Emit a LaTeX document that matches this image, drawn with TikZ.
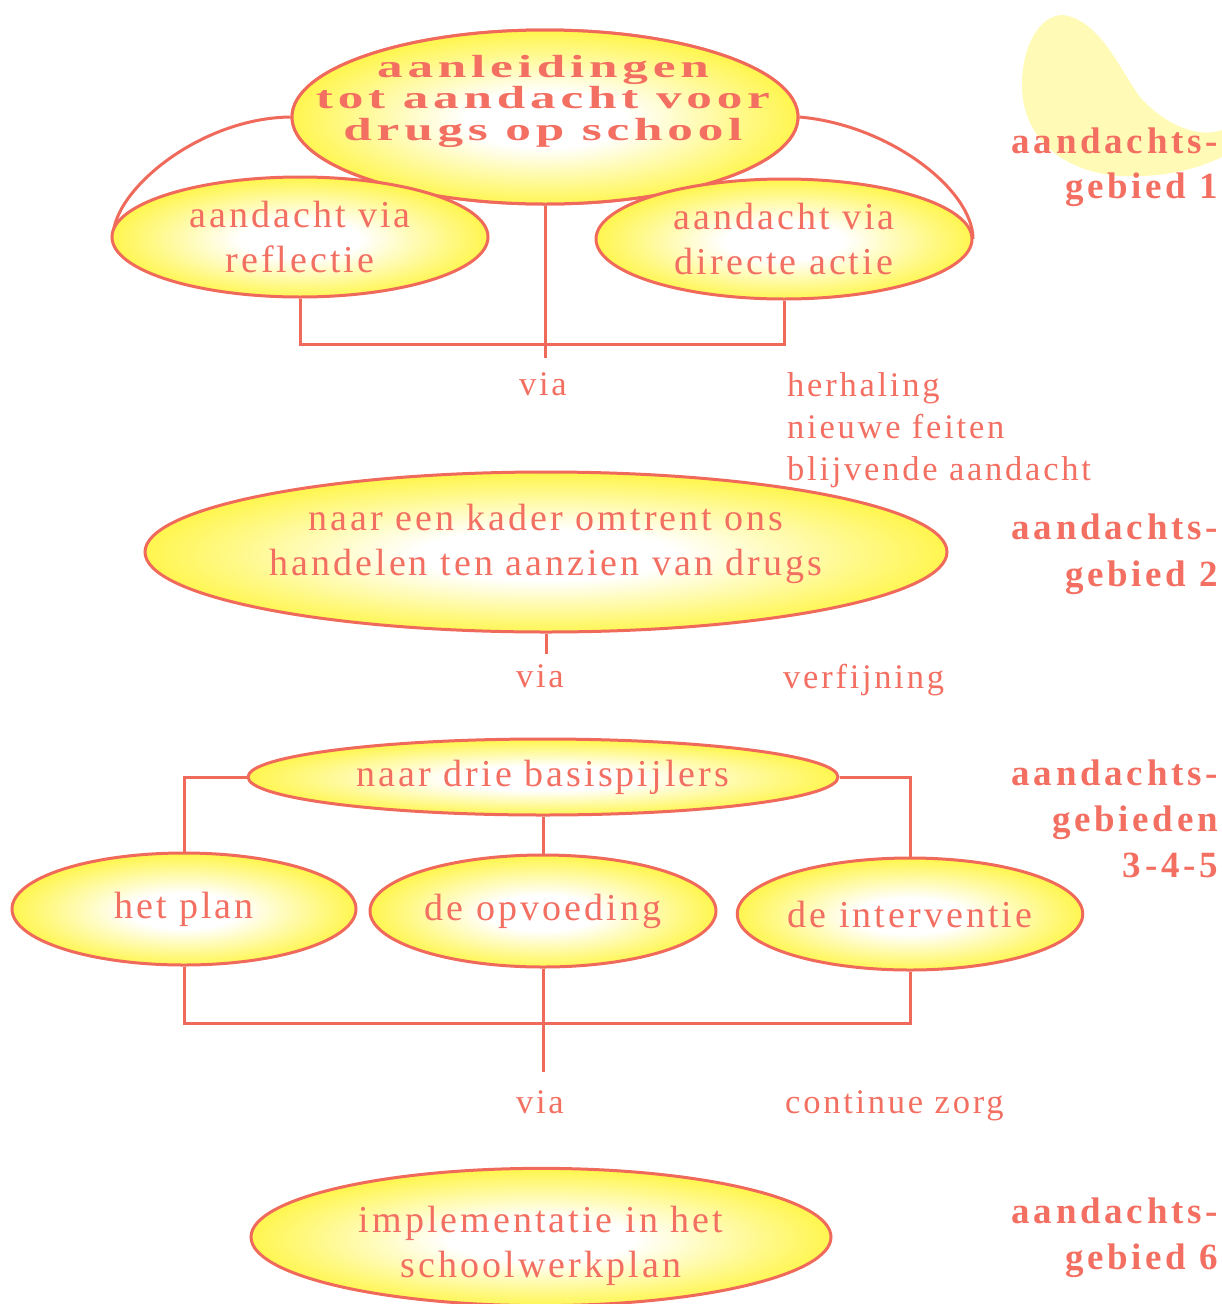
\documentclass[tikz,border=0pt]{standalone}
\usepackage{fontspec}
\setmainfont{Liberation Serif}[LetterSpace=8]
\newfontfamily\topfont{Liberation Serif Bold}[FakeStretch=1.6,LetterSpace=15]
\newfontfamily\lblfont{Liberation Serif Bold}[LetterSpace=10]
\usetikzlibrary{shapes.geometric}
\definecolor{ln}{HTML}{F06A5C}
\definecolor{tx}{HTML}{F26F62}
\definecolor{yl}{HTML}{FFF64F}
\definecolor{blobc}{HTML}{FFFAB6}
\pgfdeclareradialshading{glow}{\pgfpoint{0bp}{-1bp}}{color(0bp)=(white); color(8bp)=(white); color(25bp)=(yl); color(50bp)=(yl)}
\tikzset{
  ell/.style={ellipse, draw=ln, line width=3pt, shading=glow, inner sep=0pt,
    text=tx, font=\fontsize{38}{45}\selectfont, align=center},
  lk/.style={draw=ln, line width=3pt},
  lab/.style={text=tx, font=\fontsize{34.5}{42}\selectfont, inner sep=0pt},
  area/.style={text=tx, font=\lblfont\fontsize{37}{45}\selectfont, inner sep=0pt, anchor=base east}
}
\begin{document}
\begin{tikzpicture}[x=1pt,y=-1pt]
\useasboundingbox (0,0) rectangle (1222,1304);
% pale blob
\fill[blobc] (1063,15) .. controls (1040,15) and (1022,45) .. (1022,85)
  .. controls (1022,140) and (1065,172) .. (1120,176)
  .. controls (1165,178) and (1200,168) .. (1222,157) -- (1222,130)
  .. controls (1195,140) and (1160,120) .. (1140,97)
  .. controls (1120,70) and (1100,20) .. (1063,15) -- cycle;
% area 1
\node[ell, minimum width=506pt, minimum height=174pt] (top) at (545,117) {};
\draw[lk] (top.west) .. controls (200,118) and (113,190) .. (113,237) coordinate (la);
\draw[lk] (top.east) .. controls (890,125) and (973,190) .. (973,239) coordinate (ra);
\node[ell, minimum width=506pt, minimum height=174pt] (top2) at (545,117) {};
\node[text=tx, font=\topfont\fontsize{32}{31.5}\selectfont, align=center, inner sep=0pt] (topt) at (543,101) {aanleidingen\\tot aandacht voor\\drugs op school};
\node[ell, minimum width=376pt, minimum height=120pt] (refl) at (300,237) {aandacht via\\reflectie};
\node[ell, minimum width=376pt, minimum height=120pt] (dir) at (784,239) {aandacht via\\directe actie};
\draw[lk] (top2.south) -- ++(0,152) coordinate (v1);
\draw[lk] (refl.south) -- ++(0,46) -| (dir.south);
\node[lab, anchor=base] (via1) at (543,395) {via};
\node[lab, anchor=base west] (h1) at (787,396) {herhaling};
\node[lab, anchor=base west] (h2) at (787,438) {nieuwe feiten};
\node[lab, anchor=base west] (h3) at (787,480) {blijvende aandacht};
\node[area] (a1a) at (1218,153) {aandachts-};
\node[area] (a1b) at (1218,198) {gebied 1};
% area 2
\node[ell, minimum width=802pt, minimum height=160pt] (kader) at (546,552) {naar een kader omtrent ons\\handelen ten aanzien van drugs\rule[-25pt]{0pt}{0pt}};
\draw[lk] (kader.south) -- ++(0,20) coordinate (v2);
\node[lab, anchor=base] (via2) at (540,687) {via};
\node[lab, anchor=base west] (verf) at (783,688) {verfijning};
\node[area] (a2a) at (1218,539) {aandachts-};
\node[area] (a2b) at (1218,586) {gebied 2};
% area 3-4-5
\node[ell, minimum width=590pt, minimum height=76pt] (bas) at (543,777) {naar drie basispijlers};
\node[ell, minimum width=344pt, minimum height=112pt] (plan) at (184,909) {het plan};
\node[ell, minimum width=346pt, minimum height=112pt] (opv) at (543,911) {de opvoeding};
\node[ell, minimum width=344pt, minimum height=112pt] (int) at (910,914) {de interventie};
\draw[lk] (bas.west) -| (plan.north);
\draw[lk] (bas.east) -| (int.north);
\draw[lk] (bas.south) -- (opv.north);
\draw[lk] (plan.south) -- ++(0,57) -| (int.south);
\draw[lk] (opv.south) -- ++(0,103) coordinate (v3);
\node[lab, anchor=base] (via3) at (540,1113) {via};
\node[lab, anchor=base west] (cz) at (785,1113) {continue zorg};
\node[area] (a3a) at (1218,785) {aandachts-};
\node[area] (a3b) at (1218,831) {gebieden};
\node[area] (a3c) at (1218,877) {3-4-5};
% area 6
\node[ell, minimum width=580pt, minimum height=136pt] (impl) at (541,1237) {\rule{0pt}{44pt}implementatie in het\\schoolwerkplan};
\node[area] (a6a) at (1218,1223) {aandachts-};
\node[area] (a6b) at (1218,1269) {gebied 6};
\end{tikzpicture}
\end{document}
